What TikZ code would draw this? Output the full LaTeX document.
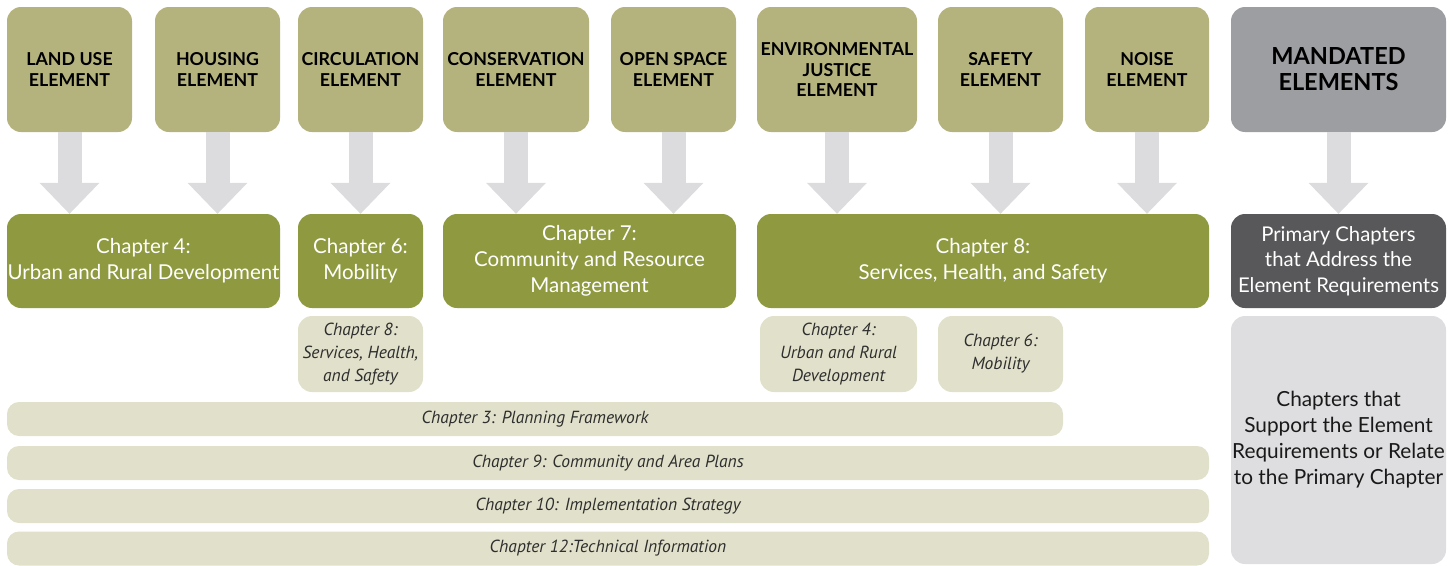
\documentclass[tikz,border=0pt]{standalone}
\usepackage{fontspec}
\setmainfont{Lato}
\newfontfamily\ptsans{PT Sans}
\usetikzlibrary{arrows.meta}
\definecolor{elemc}{HTML}{B5B37D}
\definecolor{greenc}{HTML}{8F9A40}
\definecolor{mandc}{HTML}{9D9EA1}
\definecolor{primc}{HTML}{58585A}
\definecolor{beigec}{HTML}{E1E0CA}
\definecolor{lightc}{HTML}{DEDEE0}
\definecolor{arrowc}{HTML}{DCDCDE}
\definecolor{itc}{HTML}{2E2E2E}
\begin{document}
\begin{tikzpicture}[x=1pt,y=-1pt,
  box/.style={rounded corners=14pt, inner sep=0pt, align=center},
  elem/.style={box, fill=elemc, text=black, minimum height=125pt,
    font=\fontsize{17.8}{20.5}\selectfont\bfseries},
  mand/.style={box, fill=mandc, text=black, minimum height=125pt,
    font=\fontsize{23.5}{26}\selectfont\bfseries},
  chap/.style={box, fill=greenc, text=white, minimum height=94pt,
    font=\fontsize{20.5}{26}\selectfont},
  prim/.style={box, fill=primc, text=white, minimum height=94pt,
    font=\fontsize{20.3}{25.5}\selectfont},
  supp/.style={box, fill=beigec, text=itc, minimum height=76pt,
    font=\ptsans\itshape\fontsize{17.5}{23}\selectfont},
  bar/.style={box, rounded corners=12pt, fill=beigec, text=itc, minimum height=34pt,
    font=\ptsans\itshape\fontsize{17.5}{20}\selectfont},
  side/.style={box, fill=lightc, text=black!90, minimum height=248pt,
    font=\fontsize{20.8}{26}\selectfont},
  conn/.style={draw=arrowc, line width=24pt,
    -{Triangle[width=60pt,length=31pt,line width=0pt,fill=arrowc]}}
]
\useasboundingbox (0,0) rectangle (1454,565);

% mandated elements
\node[elem, minimum width=125pt] (lu) at (69.5,69.5) {LAND USE\\ELEMENT};
\node[elem, minimum width=125pt] (ho) at (217.5,69.5) {HOUSING\\ELEMENT};
\node[elem, minimum width=125pt] (ci) at (360.5,69.5) {CIRCULATION\\ELEMENT};
\node[elem, minimum width=146pt] (co) at (516,69.5) {CONSERVATION\\ELEMENT};
\node[elem, minimum width=125pt] (os) at (673.5,69.5) {OPEN SPACE\\ELEMENT};
\node[elem, minimum width=160pt] (ej) at (837,69.5) {ENVIRONMENTAL\\JUSTICE\\ELEMENT};
\node[elem, minimum width=125pt] (sa) at (1000.5,69.5) {SAFETY\\ELEMENT};
\node[elem, minimum width=124pt] (no) at (1147,69.5) {NOISE\\ELEMENT};
\node[mand, minimum width=215pt] (ma) at (1338.5,69.5) {MANDATED\\ELEMENTS};

% primary chapters
\node[chap, minimum width=273pt] (c4) at (143.5,261) {Chapter 4:\\Urban and Rural Development};
\node[chap, minimum width=125pt] (c6) at (360.5,261) {Chapter 6:\\Mobility};
\node[chap, minimum width=293pt] (c7) at (589.5,261) {Chapter 7:\\Community and Resource\\Management};
\node[chap, minimum width=452pt] (c8) at (983,261) {Chapter 8:\\Services, Health, and Safety};
\node[prim, minimum width=215pt] (pc) at (1338.5,261) {Primary Chapters\\that Address the\\Element Requirements};

% supporting chapters
\node[supp, minimum width=125pt] (s8) at (360.5,354) {Chapter 8:\\Services, Health,\\and Safety};
\node[supp, minimum width=157pt] (s4) at (838.5,354) {Chapter 4:\\Urban and Rural\\Development};
\node[supp, minimum width=125pt] (s6) at (1000.5,354) {Chapter 6:\\Mobility};

\node[bar, minimum width=1056pt] (b3) at (535,419) {Chapter 3: Planning Framework};
\node[bar, minimum width=1202pt] (b9) at (608,463) {Chapter 9: Community and Area Plans};
\node[bar, minimum width=1202pt] (b10) at (608,506) {Chapter 10: Implementation Strategy};
\node[bar, minimum width=1202pt] (b12) at (608,548.5) {Chapter 12:Technical Information};

\node[side, minimum width=215pt] (sc) at (1338.5,440) {Chapters that\\Support the Element\\Requirements or Relate\\to the Primary Chapter};

% connectors
\draw[conn] (lu.south) -- (lu.south |- c4.north);
\draw[conn] (ho.south) -- (ho.south |- c4.north);
\draw[conn] (ci.south) -- (ci.south |- c6.north);
\draw[conn] (co.south) -- (co.south |- c7.north);
\draw[conn] (os.south) -- (os.south |- c7.north);
\draw[conn] (ej.south) -- (ej.south |- c8.north);
\draw[conn] (sa.south) -- (sa.south |- c8.north);
\draw[conn] (no.south) -- (no.south |- c8.north);
\draw[conn] (ma.south) -- (ma.south |- pc.north);
\end{tikzpicture}
\end{document}
